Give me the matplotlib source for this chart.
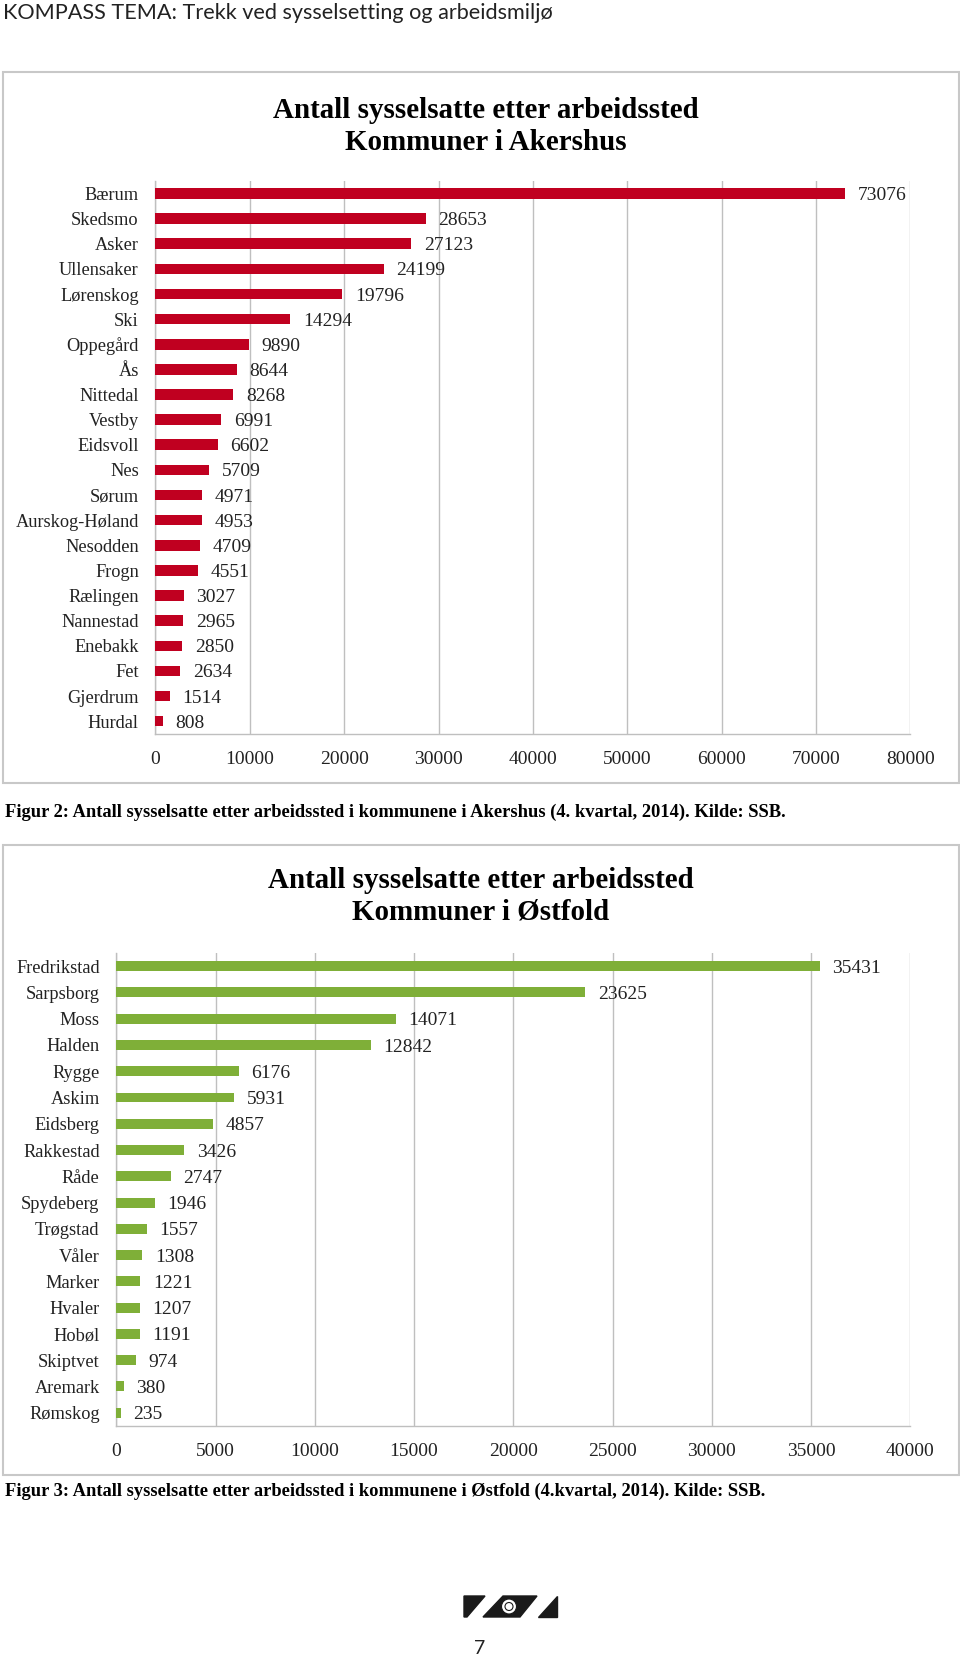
import matplotlib
matplotlib.use('Agg')
import matplotlib.pyplot as plt
from matplotlib.patches import Rectangle, Polygon, Circle

# Akershus
akershus_kommuner = ['Bærum', 'Skedsmo', 'Asker', 'Ullensaker', 'Lørenskog', 'Ski',
                     'Oppegård', 'Ås', 'Nittedal', 'Vestby', 'Eidsvoll', 'Nes', 'Sørum',
                     'Aurskog-Høland', 'Nesodden', 'Frogn', 'Rælingen', 'Nannestad',
                     'Enebakk', 'Fet', 'Gjerdrum', 'Hurdal']
akershus_antall = [73076, 28653, 27123, 24199, 19796, 14294, 9890, 8644, 8268, 6991,
                   6602, 5709, 4971, 4953, 4709, 4551, 3027, 2965, 2850, 2634, 1514, 808]
akershus_ticks = [0, 10000, 20000, 30000, 40000, 50000, 60000, 70000, 80000]

# Østfold
ostfold_kommuner = ['Fredrikstad', 'Sarpsborg', 'Moss', 'Halden', 'Rygge', 'Askim',
                    'Eidsberg', 'Rakkestad', 'Råde', 'Spydeberg', 'Trøgstad', 'Våler',
                    'Marker', 'Hvaler', 'Hobøl', 'Skiptvet', 'Aremark', 'Rømskog']
ostfold_antall = [35431, 23625, 14071, 12842, 6176, 5931, 4857, 3426, 2747, 1946,
                  1557, 1308, 1221, 1207, 1191, 974, 380, 235]
ostfold_ticks = [0, 5000, 10000, 15000, 20000, 25000, 30000, 35000, 40000]

SERIF = 'Liberation Serif'
GRID = '#BFBFBF'

W, H = 960, 1657
fig = plt.figure(figsize=(W / 100, H / 100), dpi=100)

# overlay in pixel coordinates for frames, titles, captions
deco = fig.add_axes([0, 0, 1, 1], zorder=0)
deco.set_xlim(0, W)
deco.set_ylim(H, 0)
deco.axis('off')


def bar_chart(rect, names, values, ticks, color, height):
    ax = fig.add_axes(rect, zorder=2)
    ax.patch.set_alpha(0)
    y = list(range(len(names)))
    ax.barh(y, values, height=height, color=color, zorder=3)
    ax.set_ylim(len(names) - 0.5, -0.5)
    ax.set_xlim(ticks[0], ticks[-1])
    ax.set_xticks(ticks)
    ax.set_xticklabels([str(t) for t in ticks], fontfamily=SERIF, fontsize=14)
    ax.set_yticks(y)
    ax.set_yticklabels(names, fontfamily=SERIF, fontsize=13.2)
    ax.tick_params(axis='y', length=0, pad=12, colors='#222222')
    ax.tick_params(axis='x', length=0, pad=12.5, colors='#222222')
    ax.grid(axis='x', color=GRID, linewidth=1.0, zorder=0)
    ax.set_axisbelow(True)
    for s in ['top', 'right']:
        ax.spines[s].set_visible(False)
    for s in ['left', 'bottom']:
        ax.spines[s].set_color(GRID)
        ax.spines[s].set_linewidth(1.0)
    for yi, v in zip(y, values):
        ax.annotate(str(v), (v, yi), xytext=(9, -1.5), textcoords='offset points',
                    va='center', ha='left', fontfamily=SERIF, fontsize=14,
                    color='#222222')
    return ax


# frames
deco.add_patch(Rectangle((3, 72), 956, 711, fill=False, edgecolor='#C8C8C8', lw=1.5))
deco.add_patch(Rectangle((3, 845), 956, 630, fill=False, edgecolor='#C8C8C8', lw=1.5))

bar_chart([0.1619, 0.5572, 0.7864, 0.3336], akershus_kommuner, akershus_antall,
          akershus_ticks, '#C00020', 0.42)
bar_chart([0.1211, 0.1396, 0.8271, 0.2852], ostfold_kommuner, ostfold_antall,
          ostfold_ticks, '#7FAF38', 0.38)

# header
deco.text(3, 13, 'KOMPASS TEMA: Trekk ved sysselsetting og arbeidsmiljø',
          fontfamily='Lato', fontsize=15.6, va='center', ha='left', color='#222222')

# titles
deco.text(486, 111, 'Antall sysselsatte etter arbeidssted', fontfamily=SERIF,
          fontweight='bold', fontsize=20.9, ha='center', va='center')
deco.text(486, 143, 'Kommuner i Akershus', fontfamily=SERIF,
          fontweight='bold', fontsize=20.9, ha='center', va='center')
deco.text(481, 880, 'Antall sysselsatte etter arbeidssted', fontfamily=SERIF,
          fontweight='bold', fontsize=20.9, ha='center', va='center')
deco.text(481, 912, 'Kommuner i Østfold', fontfamily=SERIF,
          fontweight='bold', fontsize=20.9, ha='center', va='center')

# captions
deco.text(5, 812, 'Figur 2: Antall sysselsatte etter arbeidssted i kommunene i Akershus '
          '(4. kvartal, 2014). Kilde: SSB.', fontfamily=SERIF, fontweight='bold',
          fontsize=13.3, ha='left', va='center')
deco.text(5, 1491, 'Figur 3: Antall sysselsatte etter arbeidssted i kommunene i Østfold '
          '(4.kvartal, 2014). Kilde: SSB.', fontfamily=SERIF, fontweight='bold',
          fontsize=13.3, ha='left', va='center')

# logo
deco.add_patch(Polygon([(464, 1596), (485, 1596), (467, 1617), (464, 1617)],
                       closed=True, color='#1A1A1A'))
deco.add_patch(Polygon([(503, 1596), (537, 1596), (520, 1617), (483, 1617)],
                       closed=True, color='#1A1A1A'))
deco.add_patch(Polygon([(557, 1596), (557, 1617), (538, 1617)],
                       closed=True, color='#1A1A1A'))
deco.add_patch(Circle((509, 1606.5), 7.5, facecolor='white', edgecolor='#1A1A1A', lw=0.8))
deco.add_patch(Circle((509, 1606.5), 4, facecolor='none', edgecolor='#1A1A1A', lw=0.8))

# page number
deco.text(480, 1649, '7', fontfamily='Lato', fontsize=14, ha='center', va='center',
          color='#222222')

fig.savefig('out.png', dpi=100)
